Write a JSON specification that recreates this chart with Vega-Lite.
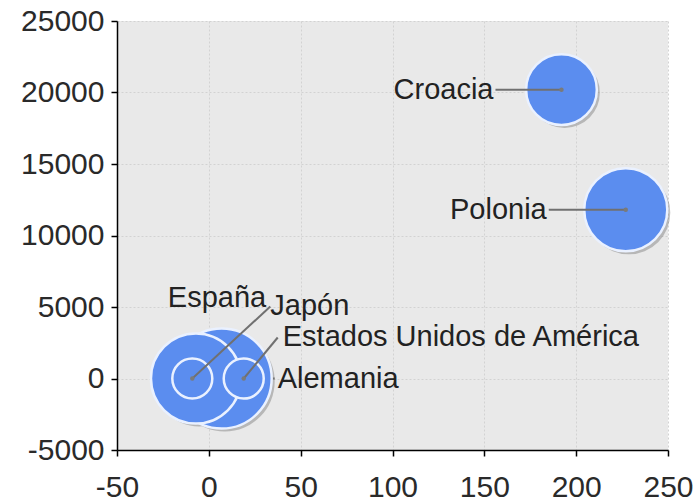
{
  "$schema": "https://vega.github.io/schema/vega-lite/v6.json",
  "width": 551,
  "height": 429,
  "autosize": {"type": "none"},
  "padding": {"left": 117, "top": 21, "right": 30, "bottom": 53},
  "background": "#ffffff",
  "config": {
    "view": {"stroke": null, "fill": "#e9e9e9"},
    "font": "Liberation Sans",
    "axis": {
      "domainColor": "#000000",
      "domainWidth": 1.5,
      "tickColor": "#000000",
      "tickWidth": 1.5,
      "tickSize": 6,
      "labelFont": "Liberation Sans",
      "labelFontSize": 30,
      "labelColor": "#2a2a2a",
      "gridColor": "#d2d2d2",
      "gridDash": [2, 2],
      "gridWidth": 1,
      "title": null,
      "labelExpr": "'' + datum.value"
    }
  },
  "data": {
    "values": [
      {"pais": "Alemania", "x": 7, "y": 0, "tam": 100},
      {"pais": "España", "x": -7, "y": 0, "tam": 81},
      {"pais": "Japón", "x": -9, "y": 0, "tam": 16},
      {"pais": "Estados Unidos de América", "x": 19, "y": 0, "tam": 16},
      {"pais": "Croacia", "x": 192, "y": 20200, "tam": 50},
      {"pais": "Polonia", "x": 227, "y": 11800, "tam": 69}
    ]
  },
  "encoding": {
    "x": {"field": "x", "type": "quantitative",
      "scale": {"domain": [-50, 250], "nice": false, "zero": false},
      "axis": {"values": [-50, 0, 50, 100, 150, 200, 250], "labelPadding": 16, "labelFlush": false}},
    "y": {"field": "y", "type": "quantitative",
      "scale": {"domain": [-5000, 25000], "nice": false, "zero": false},
      "axis": {"values": [-5000, 0, 5000, 10000, 15000, 20000, 25000], "labelPadding": 7}}
  },
  "layer": [
    {
      "transform": [{"filter": "datum.pais == 'Alemania'"}],
      "mark": {"type": "rule", "color": "#707070", "strokeWidth": 2, "x2Offset": 53, "y2Offset": 0},
      "encoding": {"x2": {"field": "x"}, "y2": {"field": "y"}}
    },
    {
      "transform": [{"filter": "datum.tam > 20"}],
      "mark": {"type": "point", "filled": true, "shape": "circle", "color": "#7a7a7a", "opacity": 0.45, "xOffset": 3, "yOffset": 3},
      "encoding": {"size": {"field": "tam", "type": "quantitative", "scale": {"domain": [0, 100], "range": [0, 10000]}, "legend": null}}
    },
    {
      "mark": {"type": "point", "filled": true, "shape": "circle", "fill": "#5b8def", "fillOpacity": 1, "stroke": "#eaf1ff", "strokeWidth": 2.5, "opacity": 1},
      "encoding": {"size": {"field": "tam", "type": "quantitative", "scale": {"domain": [0, 100], "range": [0, 10000]}, "legend": null}}
    },
    {
      "transform": [{"filter": "datum.pais == 'Croacia'"}],
      "mark": {"type": "rule", "color": "#707070", "strokeWidth": 2, "x2Offset": -66, "y2Offset": 0},
      "encoding": {"x2": {"field": "x"}, "y2": {"field": "y"}}
    },
    {
      "transform": [{"filter": "datum.pais == 'Polonia'"}],
      "mark": {"type": "rule", "color": "#707070", "strokeWidth": 2, "x2Offset": -77, "y2Offset": 0},
      "encoding": {"x2": {"field": "x"}, "y2": {"field": "y"}}
    },
    {
      "transform": [{"filter": "datum.pais == 'Japón'"}],
      "mark": {"type": "rule", "color": "#707070", "strokeWidth": 2, "x2Offset": 78, "y2Offset": -72},
      "encoding": {"x2": {"field": "x"}, "y2": {"field": "y"}}
    },
    {
      "transform": [{"filter": "datum.pais == 'Estados Unidos de América'"}],
      "mark": {"type": "rule", "color": "#707070", "strokeWidth": 2, "x2Offset": 34, "y2Offset": -41},
      "encoding": {"x2": {"field": "x"}, "y2": {"field": "y"}}
    },
    {
      "transform": [{"filter": "datum.pais != 'Alemania' && datum.pais != 'España'"}],
      "mark": {"type": "point", "filled": true, "shape": "circle", "color": "#7a7a7a", "size": 20, "opacity": 1}
    },
    {
      "transform": [{"filter": "datum.pais == 'Croacia'"}],
      "mark": {"type": "text", "align": "right", "baseline": "middle", "dx": -68, "dy": 0, "fontSize": 29, "color": "#222222"},
      "encoding": {"text": {"field": "pais"}}
    },
    {
      "transform": [{"filter": "datum.pais == 'Polonia'"}],
      "mark": {"type": "text", "align": "right", "baseline": "middle", "dx": -79, "dy": 0, "fontSize": 29, "color": "#222222"},
      "encoding": {"text": {"field": "pais"}}
    },
    {
      "transform": [{"filter": "datum.pais == 'España'"}],
      "mark": {"type": "text", "align": "center", "baseline": "middle", "dx": 21, "dy": -81, "fontSize": 29, "color": "#222222"},
      "encoding": {"text": {"field": "pais"}}
    },
    {
      "transform": [{"filter": "datum.pais == 'Japón'"}],
      "mark": {"type": "text", "align": "left", "baseline": "middle", "dx": 78, "dy": -73, "fontSize": 29, "color": "#222222"},
      "encoding": {"text": {"field": "pais"}}
    },
    {
      "transform": [{"filter": "datum.pais == 'Estados Unidos de América'"}],
      "mark": {"type": "text", "align": "left", "baseline": "middle", "dx": 39, "dy": -42, "fontSize": 29, "color": "#222222"},
      "encoding": {"text": {"field": "pais"}}
    },
    {
      "transform": [{"filter": "datum.pais == 'Alemania'"}],
      "mark": {"type": "text", "align": "left", "baseline": "middle", "dx": 56, "dy": 0, "fontSize": 29, "color": "#222222"},
      "encoding": {"text": {"field": "pais"}}
    }
  ]
}
